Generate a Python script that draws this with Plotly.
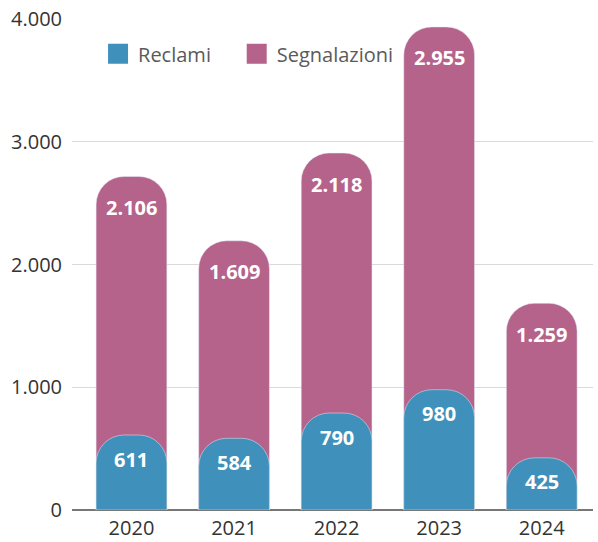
import plotly.graph_objects as go

years = ["2020", "2021", "2022", "2023", "2024"]
reclami = [611, 584, 790, 980, 425]
segnalazioni = [2106, 1609, 2118, 2955, 1259]
totali = [r + s for r, s in zip(reclami, segnalazioni)]

BLUE = "#3f91bb"
PURPLE = "#b5638a"
FONT = "Open Sans"
FS = 20


def fmt(v):
    return f"{v:,}".replace(",", ".")


fig = go.Figure()
fig.add_trace(go.Bar(x=years, y=totali, name="Segnalazioni", showlegend=False,
                     marker=dict(color=PURPLE, cornerradius=28),
                     width=0.69, hoverinfo="skip"))
fig.add_trace(go.Bar(x=years, y=reclami, name="Reclami", xaxis="x2", yaxis="y2",
                     showlegend=False,
                     marker=dict(color=BLUE, cornerradius=28),
                     width=0.69, hoverinfo="skip"))
# legend entries
fig.add_trace(go.Scatter(x=[None], y=[None], mode="markers",
                         name="Reclami\u00a0\u00a0\u00a0\u00a0",
                         marker=dict(symbol="square", size=22, color=BLUE,
                                     line=dict(color=BLUE, width=4))))
fig.add_trace(go.Scatter(x=[None], y=[None], mode="markers", name="Segnalazioni",
                         marker=dict(symbol="square", size=22, color=PURPLE,
                                     line=dict(color=PURPLE, width=4))))

# category positions as indices (annotation x on category axes)
for i, (t, s) in enumerate(zip(totali, segnalazioni)):
    fig.add_annotation(x=i, y=t, text="<b>" + fmt(s) + "</b>", showarrow=False,
                       yshift=-31, font=dict(color="white", size=FS, family=FONT))
for i, r in enumerate(reclami):
    fig.add_annotation(x=i, y=r, text="<b>" + fmt(r) + "</b>", showarrow=False,
                       yshift=-24, font=dict(color="white", size=FS, family=FONT))

axis_x = dict(type="category", range=[-0.58, 4.5], showgrid=False, showline=False,
              ticks="", ticklabelstandoff=4, automargin=False,
              tickfont=dict(size=FS, color="#333333"))
axis_y = dict(range=[0, 4000], tickvals=[0, 1000, 2000, 3000, 4000], tickformat=",d",
              showgrid=True, gridcolor="#d9d9d9", gridwidth=1,
              zeroline=True, zerolinecolor="#777777", zerolinewidth=1.5,
              ticks="", ticklabelstandoff=9, automargin=False,
              tickfont=dict(size=FS, color="#333333"))

fig.update_layout(
    width=598, height=542,
    margin=dict(l=72, r=5, t=19, b=32),
    separators=",.",
    plot_bgcolor="white", paper_bgcolor="white",
    font=dict(family=FONT, size=FS, color="#333333"),
    legend=dict(orientation="h", x=0.05, y=0.929, xanchor="left", yanchor="middle",
                font=dict(size=FS, color="#5a5a5a"), bgcolor="rgba(0,0,0,0)"),
    xaxis=axis_x,
    yaxis=axis_y,
    xaxis2=dict(axis_x, overlaying="x", showticklabels=False, matches="x"),
    yaxis2=dict(axis_y, overlaying="y", showticklabels=False, showgrid=False,
                zeroline=False, matches="y"),
)

fig.write_html("out.html", config={"displayModeBar": False},
               post_script="document.body.style.margin='0';")
